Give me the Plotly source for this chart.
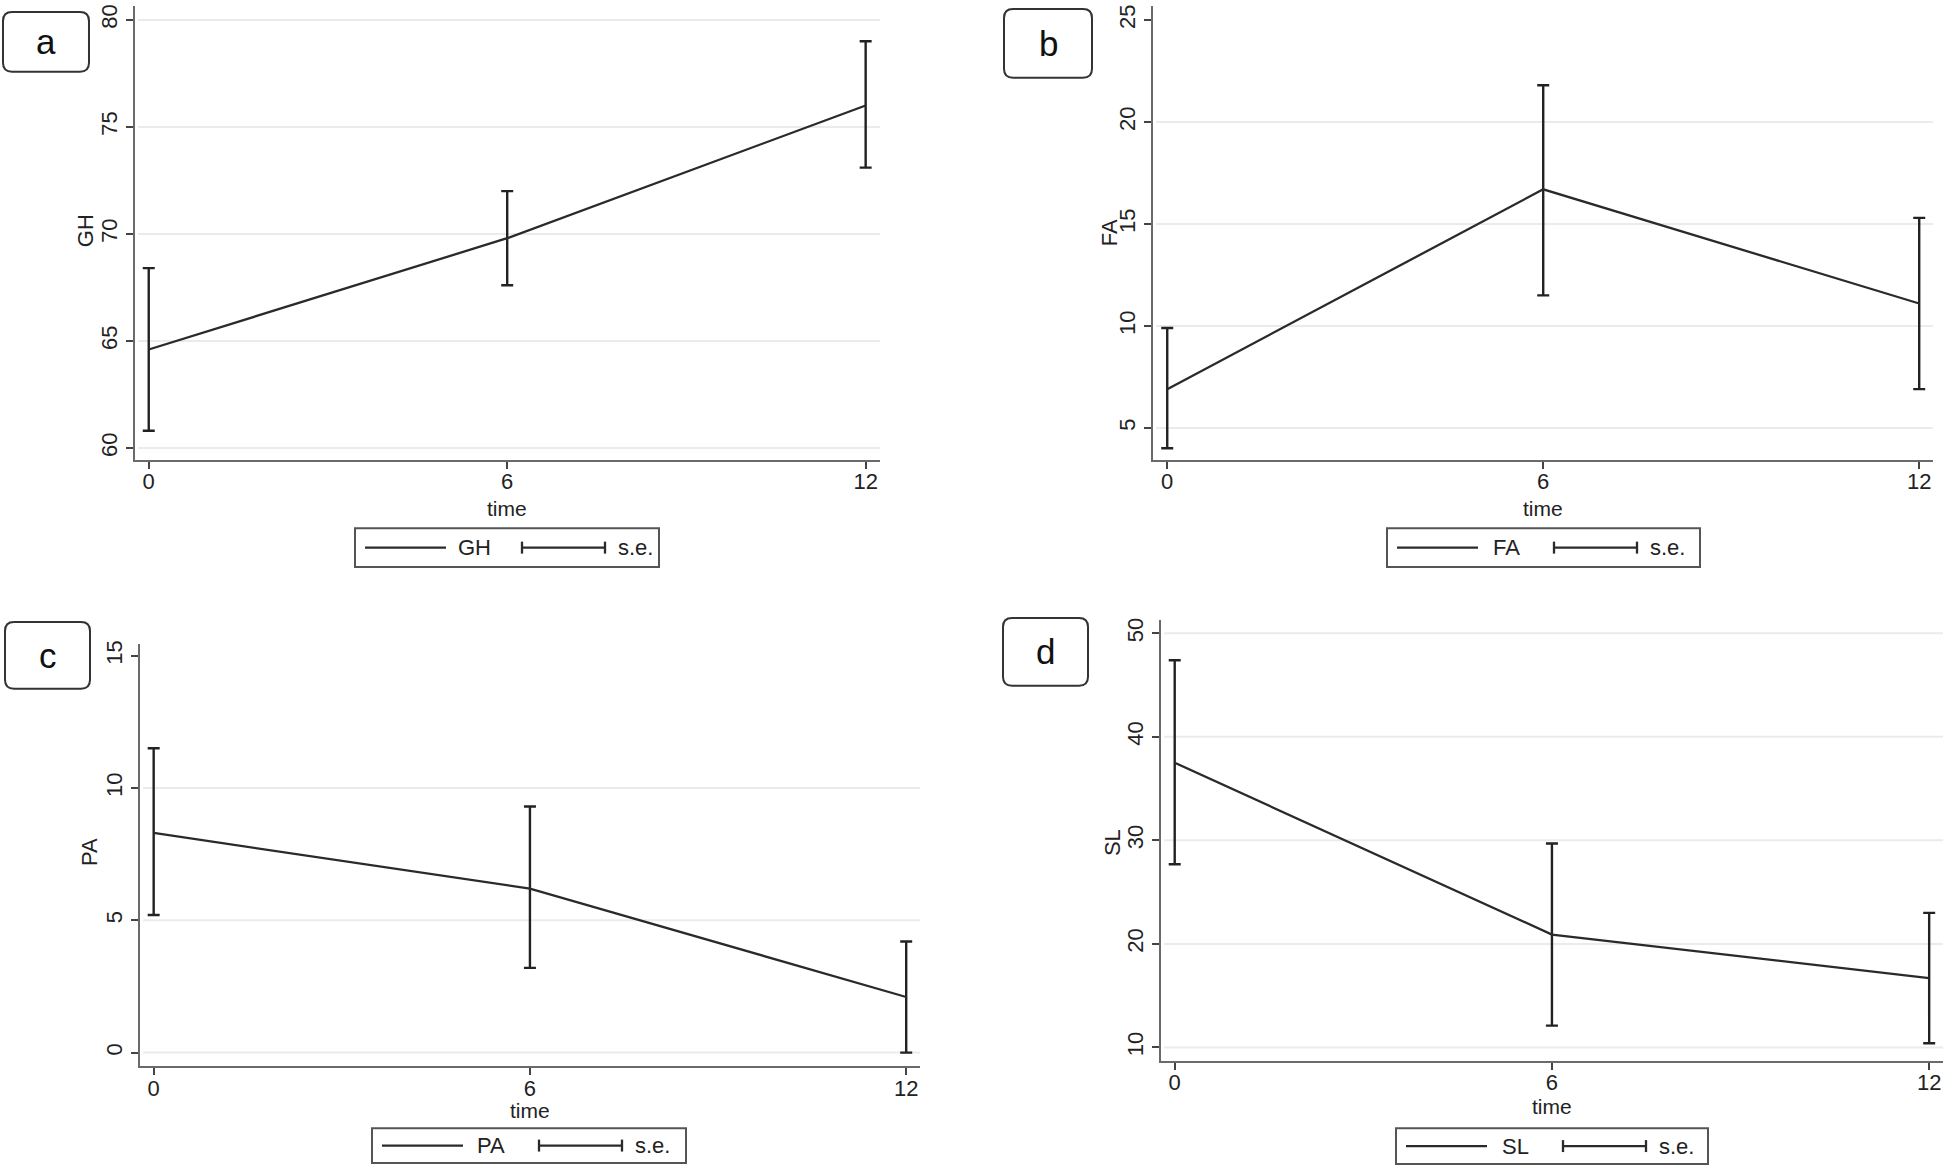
import plotly.graph_objects as go

# ---------------- data ----------------
time = [0, 6, 12]

GH_mean = [64.6, 69.8, 76.0]
GH_lo = [60.8, 67.6, 73.1]
GH_hi = [68.4, 72.0, 79.0]

FA_mean = [6.9, 16.7, 11.1]
FA_lo = [4.0, 11.5, 6.9]
FA_hi = [9.9, 21.8, 15.3]

PA_mean = [8.3, 6.2, 2.1]
PA_lo = [5.2, 3.2, 0.0]
PA_hi = [11.5, 9.3, 4.2]

SL_mean = [37.5, 20.9, 16.7]
SL_lo = [27.7, 12.1, 10.4]
SL_hi = [47.4, 29.7, 23.0]

x_ticks = [0, 6, 12]
GH_ticks = [60, 65, 70, 75, 80]
FA_ticks = [5, 10, 15, 20, 25]
PA_ticks = [0, 5, 10, 15]
SL_ticks = [10, 20, 30, 40, 50]

GH_grid = [60, 65, 70, 75, 80]
FA_grid = [5, 10, 15, 20]
PA_grid = [0, 5, 10]
SL_grid = [10, 20, 30, 40, 50]

panel_letters = ["a", "b", "c", "d"]
series_names = ["GH", "FA", "PA", "SL"]
se_label = "s.e."
x_title = "time"

# ---------------- layout helpers ----------------
W, H = 1946, 1167
FONT = "Liberation Sans, Arial, sans-serif"
DARK = "#2a2a2a"


def px(x):
    return x / W


def py(y):
    return 1 - y / H


panels = [
    dict(name=series_names[0], mean=GH_mean, lo=GH_lo, hi=GH_hi, ticks=GH_ticks, grid=GH_grid,
         box=(135, 2, 880, 457.5), xr=[-0.23, 12.24], yr=[59.44, 80.65],
         ytitle=(85, 228), timey=506, legend=(355, 526, 659, 565), letter=(3, 8, 89, 68)),
    dict(name=series_names[1], mean=FA_mean, lo=FA_lo, hi=FA_hi, ticks=FA_ticks, grid=FA_grid,
         box=(1153, 2, 1933, 457.5), xr=[-0.227, 12.22], yr=[3.43, 25.69],
         ytitle=(1109, 230), timey=506, legend=(1387, 526, 1700, 565), letter=(1004, 5, 1092, 74)),
    dict(name=series_names[2], mean=PA_mean, lo=PA_lo, hi=PA_hi, ticks=PA_ticks, grid=PA_grid,
         box=(140, 642, 920, 1066), xr=[-0.218, 12.22], yr=[-0.52, 15.45],
         ytitle=(89, 851), timey=1110, legend=(372, 1128, 686, 1163), letter=(5, 620, 90, 687)),
    dict(name=series_names[3], mean=SL_mean, lo=SL_lo, hi=SL_hi, ticks=SL_ticks, grid=SL_grid,
         box=(1161, 618, 1943, 1060.5), xr=[-0.218, 12.22], yr=[8.70, 51.30],
         ytitle=(1112, 842), timey=1106, legend=(1396, 1128, 1708, 1164), letter=(1003, 616, 1088, 684)),
]

fig = go.Figure()
shapes = []
annotations = []
layout_axes = {}

for i, p in enumerate(panels):
    n = "" if i == 0 else str(i + 1)
    xa, ya = "x" + n, "y" + n
    x0, y0, x1, y1 = p["box"]

    err_plus = [h - m for h, m in zip(p["hi"], p["mean"])]
    err_minus = [m - l for m, l in zip(p["mean"], p["lo"])]

    fig.add_trace(go.Scatter(
        x=time, y=p["mean"], mode="lines", name=p["name"],
        line=dict(color=DARK, width=2.3),
        error_y=dict(type="data", symmetric=False, array=err_plus, arrayminus=err_minus,
                     color="#222222", thickness=2.4, width=6),
        xaxis=xa, yaxis=ya, showlegend=False, hoverinfo="x+y",
    ))

    common = dict(
        ticks="outside", ticklen=7, tickwidth=2, tickcolor="#444444",
        showline=True, linecolor="#6a6a6a", linewidth=2,
        zeroline=False, fixedrange=True,
        tickfont=dict(family=FONT, size=22, color="#222222"),
    )
    layout_axes["xaxis" + n] = dict(
        domain=[px(x0), px(x1)], range=p["xr"], anchor=ya, ticklabelstandoff=-6,
        tickmode="array", tickvals=x_ticks, showgrid=False, **common)
    layout_axes["yaxis" + n] = dict(
        domain=[py(y1), py(y0)], range=p["yr"], anchor=xa,
        tickmode="array", tickvals=p["ticks"], tickangle=-90, showgrid=False, **common)

    # faint horizontal grid lines
    for v in p["grid"]:
        shapes.append(dict(type="line", xref=xa + " domain", yref=ya,
                           x0=0.004, x1=1, y0=v, y1=v, layer="below",
                           line=dict(color="#ebebeb", width=2)))

    # y axis title
    annotations.append(dict(text=p["name"], x=px(p["ytitle"][0]), y=py(p["ytitle"][1]),
                            xref="paper", yref="paper", textangle=-90, showarrow=False,
                            xanchor="center", yanchor="middle",
                            font=dict(family=FONT, size=22, color="#222222")))
    # x axis title
    annotations.append(dict(text=x_title, x=x_ticks[1], y=py(p["timey"]),
                            xref=xa, yref="paper", showarrow=False,
                            xanchor="center", yanchor="middle",
                            font=dict(family=FONT, size=21, color="#222222")))

    # legend box (drawn by hand, Stata style)
    lx0, ly0, lx1, ly1 = p["legend"]
    lyc = (ly0 + ly1) / 2
    shapes.append(dict(type="rect", xref="paper", yref="paper",
                       x0=px(lx0), x1=px(lx1), y0=py(ly1), y1=py(ly0),
                       line=dict(color="#555555", width=2), fillcolor="white"))
    shapes.append(dict(type="line", xref="paper", yref="paper",
                       x0=px(lx0 + 10), x1=px(lx0 + 91), y0=py(lyc), y1=py(lyc),
                       line=dict(color=DARK, width=2.3)))
    annotations.append(dict(text=p["name"], x=px(lx0 + 119), y=py(lyc), xref="paper", yref="paper",
                            showarrow=False, xanchor="center", yanchor="middle",
                            font=dict(family=FONT, size=22, color="#222222")))
    ex0, ex1 = lx0 + 167, lx0 + 250
    shapes.append(dict(type="line", xref="paper", yref="paper",
                       x0=px(ex0), x1=px(ex1), y0=py(lyc), y1=py(lyc),
                       line=dict(color=DARK, width=2.3)))
    for ex in (ex0, ex1):
        shapes.append(dict(type="line", xref="paper", yref="paper",
                           x0=px(ex), x1=px(ex), y0=py(lyc - 6), y1=py(lyc + 6),
                           line=dict(color=DARK, width=2.3)))
    annotations.append(dict(text=se_label, x=px(lx0 + 280), y=py(lyc), xref="paper", yref="paper",
                            showarrow=False, xanchor="center", yanchor="middle",
                            font=dict(family=FONT, size=22, color="#222222")))

    # rounded panel-letter box
    bx0, by0, bx1, by1 = p["letter"]
    r = 9
    pts = [
        ("M", [(bx0 + r, by0)]), ("L", [(bx1 - r, by0)]), ("Q", [(bx1, by0), (bx1, by0 + r)]),
        ("L", [(bx1, by1 - r)]), ("Q", [(bx1, by1), (bx1 - r, by1)]),
        ("L", [(bx0 + r, by1)]), ("Q", [(bx0, by1), (bx0, by1 - r)]),
        ("L", [(bx0, by0 + r)]), ("Q", [(bx0, by0), (bx0 + r, by0)]),
    ]
    path = " ".join(c + " " + " ".join(f"{px(a):.5f},{py(b):.5f}" for a, b in q) for c, q in pts) + " Z"
    shapes.append(dict(type="path", xref="paper", yref="paper", path=path,
                       line=dict(color="#333333", width=2)))
    annotations.append(dict(text=panel_letters[i], x=px((bx0 + bx1) / 2), y=py((by0 + by1) / 2),
                            xref="paper", yref="paper", showarrow=False,
                            xanchor="center", yanchor="middle",
                            font=dict(family=FONT, size=35, color="#111111")))

fig.update_layout(
    width=W, height=H, autosize=False,
    margin=dict(l=0, r=0, t=0, b=0),
    paper_bgcolor="white", plot_bgcolor="white",
    showlegend=False,
    shapes=shapes, annotations=annotations,
    **layout_axes,
)

fig.write_html(
    "out.html",
    config={"displayModeBar": False},
    post_script="document.body.style.margin='0';document.body.style.overflow='hidden';",
)
